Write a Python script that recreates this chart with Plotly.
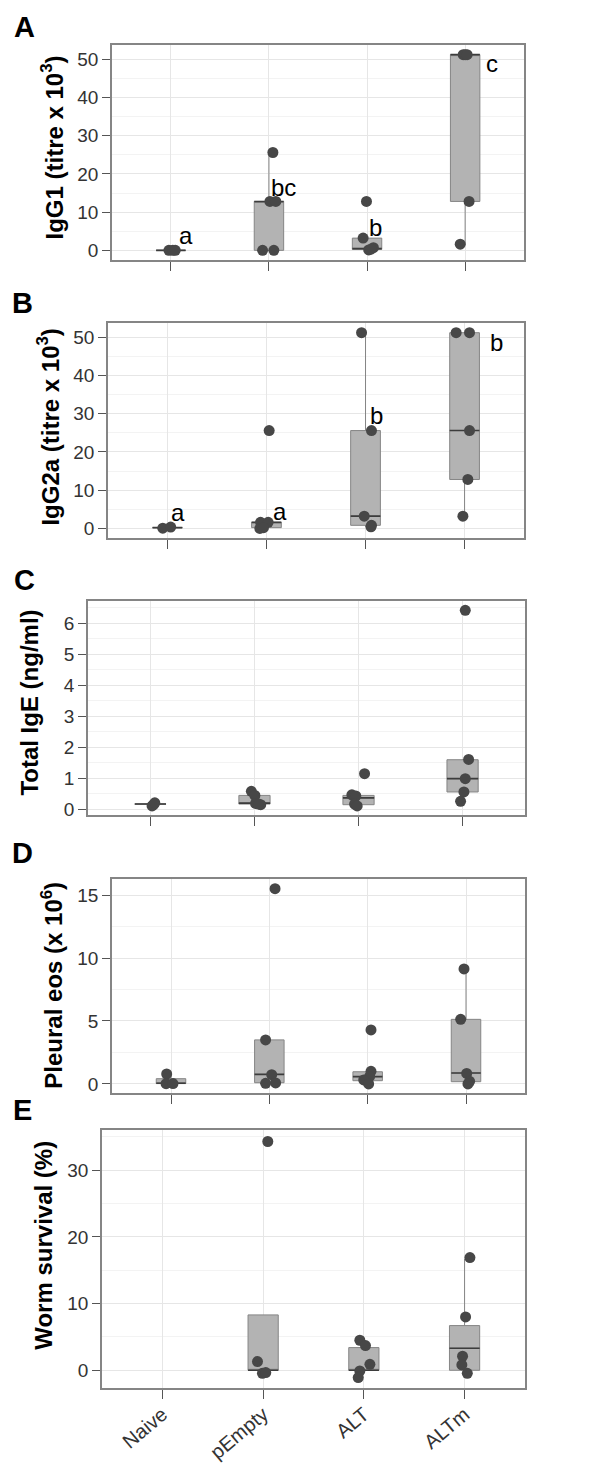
import plotly.graph_objects as go
from plotly.subplots import make_subplots

GROUPS = ["Naive", "pEmpty", "ALT", "ALTm"]

# ---------------- Panel A: IgG1 (titre x 10^3) ----------------
IGG1_POINTS = [[0, 0, 0], [25.6, 12.8, 12.8, 0, 0], [12.8, 3.2, 0.7, 0.1, 0.3], [51.2, 51.2, 51.2, 12.8, 1.6]]
IGG1_JITTER = [[-0.02, 0.02, 0.045], [0.04, 0.01, 0.07, -0.065, 0.05], [-0.006, -0.04, 0.065, 0.017, 0.04], [-0.02, 0.0, 0.02, 0.04, -0.05]]
IGG1_Q1 = [0, 0, 0.25, 12.8]
IGG1_MED = [0, 12.8, 0.45, 51.2]
IGG1_Q3 = [0, 12.8, 3.2, 51.2]
IGG1_LO = [0, 0, 0.1, 1.6]
IGG1_HI = [0, 25.6, 3.2, 51.2]
IGG1_LETTERS = ["a", "bc", "b", "c"]
IGG1_LETTER_Y = [3.9, 16.5, 6.1, 49.0]
IGG1_LETTER_DX = [0.15, 0.15, 0.09, 0.275]

# ---------------- Panel B: IgG2a (titre x 10^3) ----------------
IGG2A_POINTS = [[0.05, 0.35], [25.6, 1.6, 1.6, 0.0, 0.2], [51.2, 25.6, 3.2, 0.8, 0.4], [51.2, 51.2, 25.6, 12.8, 3.2]]
IGG2A_JITTER = [[-0.047, 0.033], [0.027, -0.06, 0.017, -0.067, -0.03], [-0.04, 0.06, -0.013, 0.06, 0.055], [-0.085, 0.05, 0.05, 0.033, -0.017]]
IGG2A_Q1 = [0.2, 0.2, 0.8, 12.8]
IGG2A_MED = [0.2, 1.6, 3.2, 25.6]
IGG2A_Q3 = [0.2, 1.6, 25.6, 51.2]
IGG2A_LO = [0.2, 0.0, 0.4, 3.2]
IGG2A_HI = [0.2, 1.6, 51.2, 51.2]
IGG2A_LETTERS = ["a", "a", "b", "b"]
IGG2A_LETTER_Y = [4.2, 4.5, 29.6, 48.7]
IGG2A_LETTER_DX = [0.107, 0.135, 0.111, 0.32]

# ---------------- Panel C: Total IgE (ng/ml) ----------------
IGE_POINTS = [[0.11, 0.15, 0.21], [0.58, 0.45, 0.19, 0.15, 0.17], [1.15, 0.47, 0.43, 0.17, 0.11], [6.42, 1.61, 0.99, 0.56, 0.26]]
IGE_JITTER = [[0.016, 0.03, 0.042], [-0.03, 0.004, 0.01, 0.06, 0.04], [0.058, -0.064, -0.026, -0.038, -0.013], [0.026, 0.058, 0.026, 0.013, -0.019]]
IGE_Q1 = [0.17, 0.17, 0.15, 0.56]
IGE_MED = [0.17, 0.2, 0.37, 0.99]
IGE_Q3 = [0.17, 0.45, 0.45, 1.6]
IGE_LO = [0.11, 0.15, 0.11, 0.26]
IGE_HI = [0.21, 0.58, 0.47, 1.61]

# ---------------- Panel D: Pleural eos (x 10^6) ----------------
EOS_POINTS = [[0.79, 0.02, 0.03], [15.5, 3.5, 0.74, 0.05, 0.08], [4.29, 1.0, 0.6, 0.32, 0.0], [9.13, 5.13, 0.84, 0.21, 0.0]]
EOS_JITTER = [[-0.044, -0.05, 0.02], [0.058, -0.038, 0.024, -0.038, 0.064], [0.034, 0.034, 0.02, -0.04, 0.01], [-0.02, -0.054, 0.007, 0.037, 0.02]]
EOS_Q1 = [0.03, 0.1, 0.26, 0.18]
EOS_MED = [0.06, 0.76, 0.58, 0.87]
EOS_Q3 = [0.42, 3.5, 0.97, 5.13]
EOS_LO = [0.0, 0.05, 0.0, 0.0]
EOS_HI = [0.79, 3.5, 1.0, 9.13]

# ---------------- Panel E: Worm survival (%) ----------------
WORM_POINTS = [[], [34.3, 1.3, -0.45, -0.35], [4.5, 3.7, 0.9, -0.1, -1.1], [16.9, 8.0, 2.1, 0.8, -0.45]]
WORM_JITTER = [[], [0.046, -0.056, -0.007, 0.026], [-0.04, 0.016, 0.06, -0.04, -0.056], [0.053, 0.01, -0.02, -0.027, 0.027]]
WORM_Q1 = [None, 0, 0, 0]
WORM_MED = [None, 0, 0, 3.3]
WORM_Q3 = [None, 8.3, 3.4, 6.7]
WORM_LO = [None, 0, 0, 0]
WORM_HI = [None, 8.3, 4.5, 16.7]

# ---------------- layout geometry (pixels) ----------------
W, H = 611, 1467
PANELS = [
    dict(letter="A", title="IgG1 (titre x 10<sup>3</sup>)", pts=IGG1_POINTS, jit=IGG1_JITTER,
         q1=IGG1_Q1, med=IGG1_MED, q3=IGG1_Q3, lo=IGG1_LO, hi=IGG1_HI,
         letters=IGG1_LETTERS, ly=IGG1_LETTER_Y, ldx=IGG1_LETTER_DX,
         box=(104, 516, 37, 253), yrange=[-2.56, 53.76], dtick=10, minor=5,
         title_x=44, title_y=140, letter_xy=(16, 19)),
    dict(letter="B", title="IgG2a (titre x 10<sup>3</sup>)", pts=IGG2A_POINTS, jit=IGG2A_JITTER,
         q1=IGG2A_Q1, med=IGG2A_MED, q3=IGG2A_Q3, lo=IGG2A_LO, hi=IGG2A_HI,
         letters=IGG2A_LETTERS, ly=IGG2A_LETTER_Y, ldx=IGG2A_LETTER_DX,
         box=(100, 516, 316, 532), yrange=[-2.56, 53.76], dtick=10, minor=5,
         title_x=40, title_y=421, letter_xy=(15, 296)),
    dict(letter="C", title="Total IgE (ng/ml)", pts=IGE_POINTS, jit=IGE_JITTER,
         q1=IGE_Q1, med=IGE_MED, q3=IGE_Q3, lo=IGE_LO, hi=IGE_HI,
         letters=None, box=(80, 517, 595, 810), yrange=[-0.19, 6.72], dtick=1, minor=0.5,
         title_x=22, title_y=697, letter_xy=(16, 574)),
    dict(letter="D", title="Pleural eos (x 10<sup>6</sup>)", pts=EOS_POINTS, jit=EOS_JITTER,
         q1=EOS_Q1, med=EOS_MED, q3=EOS_Q3, lo=EOS_LO, hi=EOS_HI,
         letters=None, box=(104, 517, 874, 1089), yrange=[-0.74, 16.27], dtick=5, minor=2.5,
         title_x=44, title_y=981, letter_xy=(14, 848)),
    dict(letter="E", title="Worm survival (%)", pts=WORM_POINTS, jit=WORM_JITTER,
         q1=WORM_Q1, med=WORM_MED, q3=WORM_Q3, lo=WORM_LO, hi=WORM_HI,
         letters=None, box=(94, 517, 1126, 1385), yrange=[-2.7, 36.0], dtick=10, minor=5,
         title_x=36, title_y=1242, letter_xy=(14, 1106)),
]

FONT = "Liberation Sans, Arial, Helvetica, sans-serif"
BOX_W = 0.3
fig = make_subplots(rows=5, cols=1)
annotations = []

for r, p in enumerate(PANELS, start=1):
    xa = "x" if r == 1 else f"x{r}"
    ya = "y" if r == 1 else f"y{r}"
    # boxes
    for i in range(len(GROUPS)):
        if p["q1"][i] is None:
            continue
        fig.add_trace(go.Box(
            x=[i], q1=[p["q1"][i]], median=[p["med"][i]], q3=[p["q3"][i]],
            lowerfence=[p["lo"][i]], upperfence=[p["hi"][i]],
            width=BOX_W, whiskerwidth=0, boxpoints=False,
            fillcolor="#b3b3b3", line=dict(color="#858585", width=1),
            showlegend=False, hoverinfo="skip"), row=r, col=1)
        fig.add_trace(go.Scatter(
            x=[i - BOX_W / 2, i + BOX_W / 2], y=[p["med"][i], p["med"][i]],
            mode="lines", line=dict(color="#3c3c3c", width=1.6),
            showlegend=False, hoverinfo="skip"), row=r, col=1)
    # jittered points
    for i in range(len(GROUPS)):
        if not p["pts"][i]:
            continue
        fig.add_trace(go.Scatter(
            x=[i + d for d in p["jit"][i]], y=p["pts"][i], mode="markers",
            marker=dict(size=11, color="#474747", line=dict(width=0)),
            showlegend=False, hoverinfo="skip"), row=r, col=1)

    l, rr, t, b = p["box"]
    last = r == len(PANELS)
    fig.update_xaxes(
        domain=[l / W, rr / W], range=[-0.6, 3.6], tickvals=list(range(len(GROUPS))),
        ticktext=GROUPS, showticklabels=last, tickangle=-40, ticklabelstandoff=-4,
        tickfont=dict(family=FONT, size=20, color="#333333"),
        showgrid=True, gridcolor="#e6e6e6", gridwidth=1,
        ticks="outside", ticklen=9, tickcolor="#555555", tickwidth=1,
        showline=True, mirror=True, linecolor="#858585", linewidth=1.5,
        zeroline=False, row=r, col=1)
    fig.update_yaxes(
        domain=[1 - b / H, 1 - t / H], range=p["yrange"], tick0=0, dtick=p["dtick"],
        tickfont=dict(family=FONT, size=19, color="#333333"),
        showgrid=True, gridcolor="#e6e6e6", gridwidth=1,
        minor=dict(tick0=0, dtick=p["minor"], showgrid=True, gridcolor="#f3f3f3", ticks=""),
        ticks="outside", ticklen=8, tickcolor="#555555", tickwidth=1,
        showline=True, mirror=True, linecolor="#858585", linewidth=1.5,
        zeroline=False, row=r, col=1)

    # y axis title
    annotations.append(dict(
        text=f"<b>{p['title']}</b>", xref="paper", yref="paper", x=p["title_x"] / W, y=1 - p["title_y"] / H,
        xanchor="center", yanchor="middle", textangle=-90, showarrow=False,
        font=dict(family=FONT, size=24, color="#000000")))
    # panel letter
    lx, lyp = p["letter_xy"]
    annotations.append(dict(
        text=f"<b>{p['letter']}</b>", xref="paper", yref="paper", x=lx / W, y=1 - lyp / H,
        xanchor="center", yanchor="middle", showarrow=False,
        font=dict(family=FONT, size=29, color="#000000")))
    # significance letters
    if p["letters"]:
        for i, txt in enumerate(p["letters"]):
            annotations.append(dict(
                text=txt, xref=xa, yref=ya, x=i + p["ldx"][i], y=p["ly"][i],
                xanchor="center", yanchor="middle", showarrow=False,
                font=dict(family=FONT, size=24, color="#000000")))

fig.update_layout(
    width=W, height=H, margin=dict(l=0, r=0, t=0, b=0),
    paper_bgcolor="white", plot_bgcolor="white", boxmode="overlay",
    annotations=annotations, showlegend=False)

fig.write_html("out.html")
